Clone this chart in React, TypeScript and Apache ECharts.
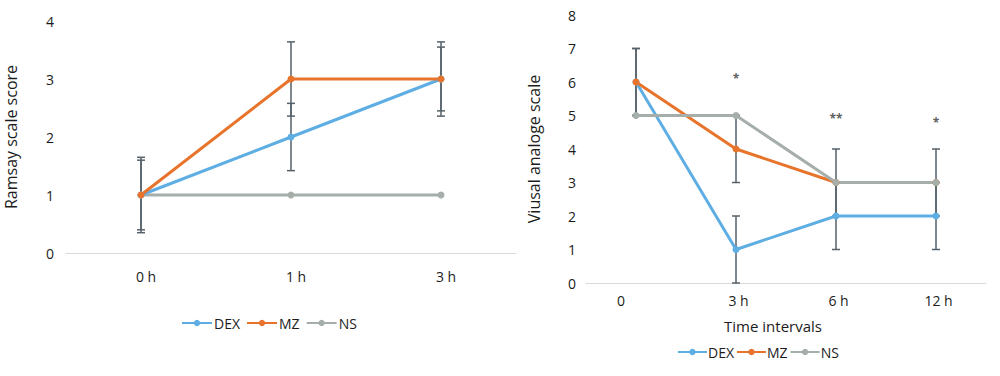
import React, { useEffect, useRef } from "react";
import * as echarts from "echarts";

// Left chart: Ramsay scale score
const leftCategories = ["0 h", "1 h", "3 h"];
const leftDex = [1, 2, 3];
const leftMz = [1, 3, 3];
const leftNs = [1, 1, 1];
const leftDexErr = [0.65, 0.58, 0.55];
const leftMzErr = [0.6, 0.64, 0.64];
const leftTicks = [0, 1, 2, 3, 4];

// Right chart: Visual analogue scale
const rightCategories = ["0", "3 h", "6 h", "12 h"];
const rightDex = [6, 1, 2, 2];
const rightMz = [6, 4, 3, 3];
const rightNs = [5, 5, 3, 3];
const rightDexErr = [1, 1, 1, 1];
const rightMzErr = [1, 1, 1, 1];
const rightSigLabels = ["", "*", "**", "*"];
const rightSigY = [null, 6.1, 4.9, 4.8];
const rightTicks = [0, 1, 2, 3, 4, 5, 6, 7, 8];

const seriesNames = ["DEX", "MZ", "NS"];
const COLORS = { DEX: "#5eaee4", MZ: "#e8742c", NS: "#a6aeaa" };
const ERR_COLOR = "#56616a";
const FONT = "Open Sans";
const TEXT = "#1c1c1c";

function errData(vals: number[], errs: number[]) {
  return vals.map((v, i) => [i, v - errs[i], v + errs[i]]);
}

function errorSeries(data: number[][], axisIndex: number) {
  return {
    type: "custom",
    xAxisIndex: axisIndex,
    yAxisIndex: axisIndex,
    z: 1,
    silent: true,
    data,
    renderItem: (params: any, api: any) => {
      const x = api.value(0);
      const lo = api.value(1);
      const hi = api.value(2);
      const top = api.coord([x, hi]);
      const bot = api.coord([x, lo]);
      const w = 4;
      const style = { stroke: ERR_COLOR, lineWidth: 1.5 };
      return {
        type: "group",
        children: [
          { type: "line", shape: { x1: top[0], y1: top[1], x2: bot[0], y2: bot[1] }, style },
          { type: "line", shape: { x1: top[0] - w, y1: top[1], x2: top[0] + w, y2: top[1] }, style },
          { type: "line", shape: { x1: bot[0] - w, y1: bot[1], x2: bot[0] + w, y2: bot[1] }, style },
        ],
      };
    },
  };
}

function lineSeries(name: string, data: number[], axisIndex: number) {
  const color = (COLORS as any)[name];
  return {
    type: "line",
    name,
    data,
    xAxisIndex: axisIndex,
    yAxisIndex: axisIndex,
    z: 3,
    symbol: "circle",
    symbolSize: 7,
    lineStyle: { color, width: 3 },
    itemStyle: { color },
  };
}

export default function App() {
  const ref = useRef<HTMLDivElement>(null);
  useEffect(() => {
    if (!ref.current) return;
    const chart = echarts.init(ref.current, undefined, { renderer: "svg" });
    const axisLabelBase = { color: TEXT, fontSize: 14, fontFamily: FONT };
    const option: any = {
      animation: false,
      backgroundColor: "#fff",
      textStyle: { fontFamily: FONT },
      grid: [
        { left: 66, top: 21, width: 450, height: 232 },
        { left: 586, top: 15, width: 400, height: 268 },
      ],
      xAxis: [
        {
          type: "category",
          gridIndex: 0,
          data: leftCategories,
          axisLine: { lineStyle: { color: "#dadada", width: 1 } },
          axisTick: { show: false },
          axisLabel: {
            ...axisLabelBase,
            margin: 16,
            formatter: (v: string) => "{a|" + v + "}",
            rich: { a: { ...axisLabelBase, padding: [0, 0, 0, 10] } },
          },
        },
        {
          type: "category",
          gridIndex: 1,
          data: rightCategories,
          name: "Time intervals",
          nameLocation: "middle",
          nameGap: 35,
          nameTextStyle: { color: TEXT, fontSize: 15, fontFamily: FONT, padding: [0, 26, 0, 0] },
          axisLine: { lineStyle: { color: "#dadada", width: 1 } },
          axisTick: { show: false },
          axisLabel: {
            ...axisLabelBase,
            margin: 10,
            formatter: (v: string) => (v === "0" ? "{b|" + v + "}" : "{a|" + v + "}"),
            rich: {
              a: { ...axisLabelBase, padding: [0, 0, 0, 5] },
              b: { ...axisLabelBase, padding: [0, 30, 0, 0] },
            },
          },
        },
      ],
      yAxis: [
        {
          type: "value",
          gridIndex: 0,
          min: leftTicks[0],
          max: leftTicks[leftTicks.length - 1],
          interval: 1,
          name: "Ramsay scale score",
          nameLocation: "middle",
          nameGap: 47,
          nameTextStyle: { color: TEXT, fontSize: 16, fontFamily: FONT, padding: [0, 0, 0, 0] },
          axisLine: { show: false },
          axisTick: { show: false },
          splitLine: { show: false },
          axisLabel: { ...axisLabelBase, margin: 12 },
        },
        {
          type: "value",
          gridIndex: 1,
          min: rightTicks[0],
          max: rightTicks[rightTicks.length - 1],
          interval: 1,
          name: "Viusal analoge scale",
          nameLocation: "middle",
          nameGap: 44,
          nameTextStyle: { color: TEXT, fontSize: 16, fontFamily: FONT },
          axisLine: { show: false },
          axisTick: { show: false },
          splitLine: { show: false },
          axisLabel: { ...axisLabelBase, margin: 10 },
        },
      ],
      legend: [
        {
          data: seriesNames,
          left: 176,
          top: 311,
          itemWidth: 30,
          itemHeight: 8,
          itemGap: 6,
          textStyle: { color: TEXT, fontSize: 14, fontFamily: FONT, padding: [0, 0, 0, -3] },
        },
        {
          data: seriesNames,
          left: 672,
          top: 340,
          itemWidth: 29,
          itemHeight: 8,
          itemGap: 2,
          textStyle: { color: TEXT, fontSize: 14, fontFamily: FONT, padding: [0, 0, 0, -4] },
        },
      ],
      series: [
        errorSeries(errData(leftDex, leftDexErr), 0),
        errorSeries(errData(leftMz, leftMzErr), 0),
        lineSeries("NS", leftNs, 0),
        lineSeries("DEX", leftDex, 0),
        lineSeries("MZ", leftMz, 0),
        errorSeries(errData(rightDex, rightDexErr), 1),
        errorSeries(errData(rightMz, rightMzErr), 1),
        lineSeries("DEX", rightDex, 1),
        lineSeries("MZ", rightMz, 1),
        lineSeries("NS", rightNs, 1),
        {
          type: "scatter",
          xAxisIndex: 1,
          yAxisIndex: 1,
          symbolSize: 0,
          silent: true,
          data: rightSigY.map((v, i) => (v == null ? null : [i, v])),
          label: {
            show: true,
            position: "inside",
            formatter: (p: any) => rightSigLabels[p.dataIndex],
            color: "#333",
            fontSize: 12,
            fontWeight: "bold",
            fontFamily: FONT,
          },
        },
      ],
    };
    chart.setOption(option);
    return () => chart.dispose();
  }, []);
  return (
    <div
      ref={ref}
      style={{ position: "absolute", left: 0, top: 0, width: 1000, height: 376 }}
    />
  );
}
